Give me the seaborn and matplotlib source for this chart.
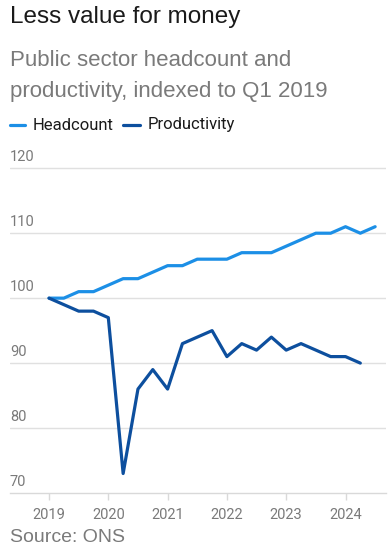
import numpy as np
import pandas as pd
import matplotlib
matplotlib.use("Agg")
import matplotlib.pyplot as plt
import matplotlib.transforms as mtransforms
import seaborn as sns

# quarterly index values, Q1 2019 = 100
headcount_quarters = ["2019Q1", "2019Q2", "2019Q3", "2019Q4",
                      "2020Q1", "2020Q2", "2020Q3", "2020Q4",
                      "2021Q1", "2021Q2", "2021Q3", "2021Q4",
                      "2022Q1", "2022Q2", "2022Q3", "2022Q4",
                      "2023Q1", "2023Q2", "2023Q3", "2023Q4",
                      "2024Q1", "2024Q2", "2024Q3"]
headcount = [100, 100, 101, 101, 102, 103, 103, 104, 105, 105, 106, 106,
             106, 107, 107, 107, 108, 109, 110, 110, 111, 110, 111]

productivity_quarters = headcount_quarters[:-1]
productivity = [100, 99, 98, 98, 97, 73, 86, 89, 86, 93, 94, 95,
                91, 93, 92, 94, 92, 93, 92, 91, 91, 90]

y_ticks = [70, 80, 90, 100, 110, 120]
x_ticks = [2019, 2020, 2021, 2022, 2023, 2024]

HEAD_COL = "#1c8fe6"
PROD_COL = "#0d4f9e"
GREY = "#7a7a7a"
NARROW = ["Roboto", "DejaVu Sans"]


def to_year(q):
    return int(q[:4]) + (int(q[-1]) - 1) * 0.25


df = pd.concat([
    pd.DataFrame({"x": [to_year(q) for q in headcount_quarters],
                  "value": headcount, "series": "Headcount"}),
    pd.DataFrame({"x": [to_year(q) for q in productivity_quarters],
                  "value": productivity, "series": "Productivity"}),
])

sns.set_style("white")
plt.rcParams["font.family"] = ["Liberation Sans", "DejaVu Sans"]

fig = plt.figure(figsize=(3.91, 5.59), dpi=100)
ax = fig.add_axes([10 / 391, (559 - 493) / 559, 376 / 391, 328 / 559])

sns.lineplot(data=df, x="x", y="value", hue="series",
             palette={"Headcount": HEAD_COL, "Productivity": PROD_COL},
             linewidth=2.3, legend=False, ax=ax)

ax.set_xlim(2018.342, 2024.683)
ax.set_ylim(70, 120.5)
ax.set_xlabel("")
ax.set_ylabel("")

for s in ["top", "right", "left"]:
    ax.spines[s].set_visible(False)
ax.spines["bottom"].set_color("#d9d9d9")
ax.spines["bottom"].set_linewidth(1)

for v in y_ticks[1:]:
    ax.axhline(v, color="#e0e0e0", linewidth=1, zorder=0)

ax.set_yticks([])
ax.set_xticks(x_ticks)
ax.set_xticklabels([str(x) for x in x_ticks], color=GREY, fontsize=10.5,
                   family=NARROW)
ax.tick_params(axis="x", length=5, width=1, color="#d9d9d9", pad=6,
               direction="out", bottom=True)

trans = mtransforms.blended_transform_factory(ax.transAxes, ax.transData)
off = mtransforms.offset_copy(trans, fig=fig, x=0, y=3, units="points")
for v in y_ticks:
    ax.text(0, v, str(v), transform=off, ha="left", va="bottom",
            color=GREY, fontsize=10.5, family=NARROW)

fig.text(10 / 391, 1 - 17 / 559, "Less value for money", fontsize=17.5,
         color="#1a1a1a", ha="left", va="center")
fig.text(10 / 391, 1 - 60 / 559, "Public sector headcount and", fontsize=16,
         color=GREY, ha="left", va="center")
fig.text(10 / 391, 1 - 91 / 559, "productivity, indexed to Q1 2019", fontsize=16,
         color=GREY, ha="left", va="center")

# legend row
fig.add_artist(plt.Line2D([10 / 391, 25 / 391], [1 - 125 / 559] * 2,
                          color=HEAD_COL, linewidth=2.3))
fig.text(33 / 391, 1 - 125 / 559, "Headcount", fontsize=12, color="#1a1a1a",
         ha="left", va="center", family=NARROW)
fig.add_artist(plt.Line2D([123 / 391, 140 / 391], [1 - 125 / 559] * 2,
                          color=PROD_COL, linewidth=2.3))
fig.text(148 / 391, 1 - 125 / 559, "Productivity", fontsize=12, color="#1a1a1a",
         ha="left", va="center", family=NARROW)

fig.text(10 / 391, 1 - 538 / 559, "Source: ONS", fontsize=14, color=GREY,
         ha="left", va="center")

fig.savefig("out.png", dpi=100)
